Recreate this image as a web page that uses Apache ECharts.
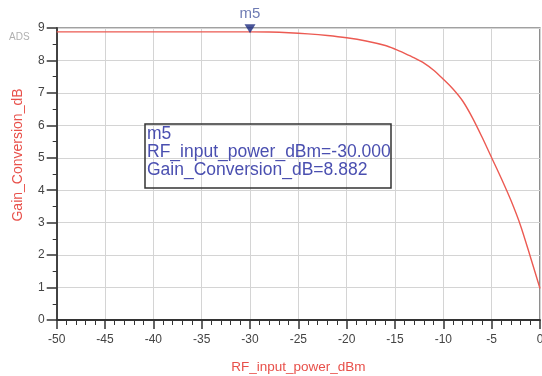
<!DOCTYPE html>
<html>
<head>
<meta charset="utf-8">
<script src="https://cdn.jsdelivr.net/npm/echarts@6/dist/echarts.min.js"></script>
<style>
html, body { margin: 0; padding: 0; background: #fff; }
#chart { width: 542px; height: 376px; }
</style>
</head>
<body>
<div id="chart"></div>
<script>
// RF input power (dBm) and conversion gain (dB)
var powerIn = [-50, -45, -40, -35, -30, -28, -26, -24, -22, -20, -18, -16, -15, -14, -13, -12, -11, -10, -9, -8, -7, -6, -5, -4, -3, -2, -1, 0];
var gainDb = [8.882, 8.882, 8.882, 8.882, 8.882, 8.875, 8.855, 8.82, 8.77, 8.70, 8.60, 8.46, 8.35, 8.22, 8.08, 7.92, 7.70, 7.42, 7.12, 6.75, 6.24, 5.64, 5.00, 4.36, 3.68, 2.90, 1.95, 0.97];
var markerX = [-30];
var markerY = [8.882];
var xTicks = { min: -50, max: 0, step: 5 };
var yTicks = { min: 0, max: 9, step: 1 };

var lineData = [];
for (var i = 0; i < powerIn.length; i++) {
	lineData.push([powerIn[i], gainDb[i]]);
}

var myChart = echarts.init(document.getElementById('chart'));
var option = {
	backgroundColor: '#FFFFFF',
	animation: false,
	title: {
		left: 145,
		top: 124,
		text: 'm5\nRF_input_power_dBm=' + markerX[0].toFixed(3) + '\nGain_Conversion_dB=' + markerY[0].toFixed(3),
		borderColor: '#333',
		borderWidth: 1.5,
		padding: [1, 1, 9, 2],
		textStyle: {
			color: '#4a4fb0',
			fontFamily: 'Liberation Sans',
			fontSize: 17.5,
			fontWeight: 'normal',
			lineHeight: 18
		}
	},
	graphic: [{
		type: 'text',
		left: 9,
		top: 32,
		style: { text: 'ADS', fill: '#b0b0b0', font: '10px Liberation Sans' }
	}],
	grid: {
		left: 56.7,
		right: 2,
		top: 28,
		bottom: 56,
		outerBoundsMode: 'none',
		containLabel: false,
		show: true,
		borderColor: '#444',
		borderWidth: 1.2
	},
	xAxis: {
		type: 'value',
		min: xTicks.min,
		max: xTicks.max,
		interval: xTicks.step,
		name: 'RF_input_power_dBm',
		nameLocation: 'middle',
		nameGap: 40,
		nameTextStyle: { color: '#e8504a', fontSize: 13.5, fontFamily: 'Liberation Sans' },
		axisLine: { onZero: false, lineStyle: { color: '#333', width: 1.8 } },
		axisTick: { length: 9, lineStyle: { color: '#333', width: 1.5 } },
		minorTick: { show: true, splitNumber: 5, length: 5, lineStyle: { color: '#333', width: 1 } },
		splitLine: { lineStyle: { color: '#d4d4d4', width: 1 } },
		axisLabel: { margin: 14, color: '#444', fontSize: 12, fontFamily: 'Liberation Sans' }
	},
	yAxis: {
		type: 'value',
		min: yTicks.min,
		max: yTicks.max,
		interval: yTicks.step,
		name: 'Gain_Conversion_dB',
		nameLocation: 'middle',
		nameGap: 32,
		nameTextStyle: { color: '#e8504a', fontSize: 14, fontFamily: 'Liberation Sans', padding: [0, 0, 0, 38] },
		axisLine: { show: true, onZero: false, lineStyle: { color: '#333', width: 1.8 } },
		axisTick: { show: true, length: 10, lineStyle: { color: '#333', width: 1.5 } },
		minorTick: { show: true, splitNumber: 2, length: 4, lineStyle: { color: '#333', width: 1 } },
		splitLine: { lineStyle: { color: '#d4d4d4', width: 1 } },
		axisLabel: { margin: 12, color: '#444', fontSize: 12, fontFamily: 'Liberation Sans' }
	},
	series: [{
		name: 'Gain_Conversion_dB',
		type: 'line',
		data: lineData,
		smooth: 0.3,
		showSymbol: false,
		lineStyle: { color: '#ec5a52', width: 1.4 },
		z: 3
	}, {
		name: 'm5',
		type: 'scatter',
		data: [[markerX[0], markerY[0]]],
		symbol: 'triangle',
		symbolRotate: 180,
		symbolSize: [11, 9],
		symbolOffset: [0, -3],
		itemStyle: { color: '#1c2a80' },
		label: {
			show: true,
			position: 'top',
			distance: 3,
			formatter: 'm5',
			color: '#4a5aa0',
			fontSize: 15,
			fontFamily: 'Liberation Sans'
		},
		z: 5
	}]
};
myChart.setOption(option);
</script>
</body>
</html>
